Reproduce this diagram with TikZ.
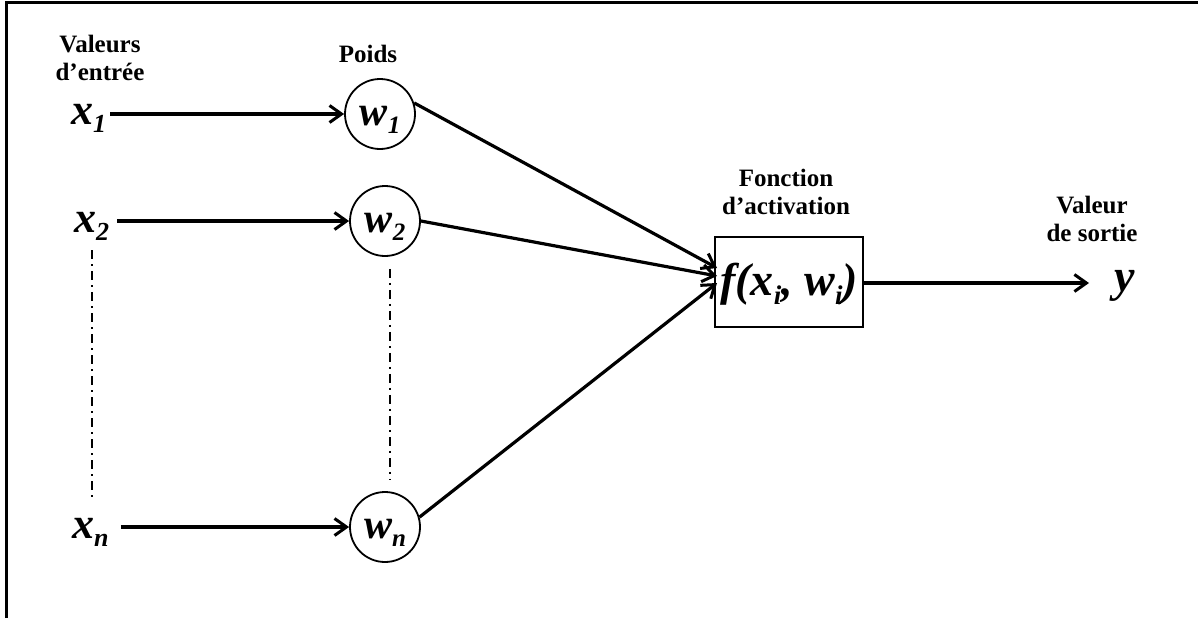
\documentclass[tikz,border=0pt]{standalone}
\usepackage{fontspec}
\setmainfont{Liberation Serif}
\usetikzlibrary{arrows.meta}
\newcommand{\vs}[4]{{\fontsize{#1}{#1}\selectfont\bfseries\itshape #3\raisebox{-0.2em}{\fontsize{#2}{#2}\selectfont #4}}}
\newcommand{\bi}[2]{{\fontsize{#1}{#1}\selectfont\bfseries\itshape #2}}
\newcommand{\ctr}[2]{\raisebox{#1}[0pt][0pt]{#2}}
\tikzset{
  lbl/.style={font=\fontsize{25}{28}\selectfont\bfseries, align=center, inner sep=0pt},
  var/.style={inner sep=2pt},
  wnode/.style={draw, circle, line width=1.8pt, minimum size=70pt, inner sep=0pt},
  fbox/.style={draw, rectangle, line width=1.8pt, minimum width=148pt, minimum height=90pt, inner sep=0pt},
  arr/.style={line width=3.2pt, -{Straight Barb[length=12pt, width=17pt, line width=3pt]}},
  dd/.style={line width=1.8pt, dash pattern=on 9pt off 5pt on 2pt off 5pt},
  frame/.style={line width=3pt}
}
\begin{document}
\begin{tikzpicture}[x=1pt, y=-1pt]
\useasboundingbox (0,0) rectangle (1198,618);
\draw[frame] (6,618) -- (6,3) -- (1198,3);

\node[lbl] (lin) at (100,58) {Valeurs\\d’entrée};
\node[lbl] (lw) at (368,54) {Poids};
\node[lbl] (lf) at (786,192) {Fonction\\d’activation};
\node[lbl] (lo) at (1092,219) {Valeur\\de sortie};

\node[var, anchor=base west] (x1) at (69,124) {\vs{44}{26}{x}{1}};
\node[var, anchor=base west] (x2) at (72,232) {\vs{44}{26}{x}{2}};
\node[var, anchor=base west] (xn) at (70,538) {\vs{44}{26}{x}{n}};

\node[wnode] (w1) at (380,114) {\ctr{-11pt}{\vs{42}{25}{w}{1}}};
\node[wnode] (w2) at (385,221) {\ctr{-11pt}{\vs{42}{25}{w}{2}}};
\node[wnode] (wn) at (385,527) {\ctr{-11pt}{\vs{42}{25}{w}{n}}};

\node[fbox] (f) at (789,282) {\ctr{-13pt}{\vs{46}{27}{f(x}{i}\bi{46}{, }\vs{46}{27}{w}{i}\bi{46}{)}}};

\node[var, anchor=base west] (y) at (1112,291) {\bi{46}{y}};

\draw[arr] ([xshift=2pt]w1.west -| x1.east) -- (w1.west);
\draw[arr] ([xshift=6pt]w2.west -| x2.east) -- (w2.west);
\draw[arr] ([xshift=10pt]wn.west -| xn.east) -- (wn.west);

\coordinate (t1) at (717,268);
\coordinate (t2) at (717,276);
\coordinate (t3) at (717,283);
\draw[arr] (w1.18) -- (t1);
\draw[arr] (w2.east) -- (t2);
\draw[arr] (wn.16) -- (t3);

\coordinate (yend) at (1089,283);
\draw[arr] (f.east |- yend) -- (yend);

\draw[dd] (92,250) -- (92,498);
\draw[dd] ([shift={(5,12)}]w2.south) -- ([shift={(5,-12)}]wn.north);
\end{tikzpicture}
\end{document}
